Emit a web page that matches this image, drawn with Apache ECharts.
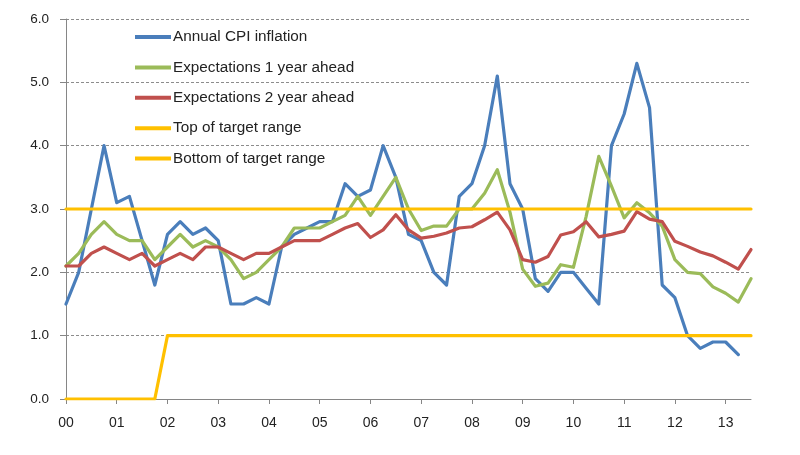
<!DOCTYPE html>
<html>
<head>
<meta charset="utf-8">
<script src="https://cdn.jsdelivr.net/npm/echarts@6/dist/echarts.min.js"></script>
<style>
html,body{margin:0;padding:0;background:#fff;}
#chart{width:800px;height:455px;}
</style>
</head>
<body>
<div id="chart"></div>
<script>
// Quarterly categories 2000Q1 .. 2013Q3
var years = ['00','01','02','03','04','05','06','07','08','09','10','11','12','13'];
var quarters = [];
for (var y = 0; y < years.length; y++) {
  for (var q = 1; q <= 4; q++) {
    if (y === 13 && q > 3) break;
    quarters.push(years[y] + 'Q' + q);
  }
}

var cpi = [1.5, 2.0, 3.0, 4.0, 3.1, 3.2, 2.5, 1.8, 2.6, 2.8,
           2.6, 2.7, 2.5, 1.5, 1.5, 1.6, 1.5, 2.4, 2.6, 2.7,
           2.8, 2.8, 3.4, 3.2, 3.3, 4.0, 3.5, 2.6, 2.5, 2.0,
           1.8, 3.2, 3.4, 4.0, 5.1, 3.4, 3.0, 1.9, 1.7, 2.0,
           2.0, 1.75, 1.5, 4.0, 4.5, 5.3, 4.6, 1.8, 1.6, 1.0,
           0.8, 0.9, 0.9, 0.7, null];

var exp1 = [2.1, 2.3, 2.6, 2.8, 2.6, 2.5, 2.5, 2.2, 2.4, 2.6,
            2.4, 2.5, 2.4, 2.2, 1.9, 2.0, 2.2, 2.4, 2.7, 2.7,
            2.7, 2.8, 2.9, 3.2, 2.9, 3.2, 3.5, 3.0, 2.66, 2.73,
            2.73, 3.0, 3.0, 3.25, 3.62, 2.95, 2.05, 1.78, 1.83, 2.12,
            2.08, 2.88, 3.83, 3.36, 2.86, 3.1, 2.94, 2.73, 2.2, 2.0,
            1.98, 1.77, 1.67, 1.53, 1.9];

var exp2 = [2.1, 2.1, 2.3, 2.4, 2.3, 2.2, 2.3, 2.1, 2.2, 2.3,
            2.2, 2.4, 2.4, 2.3, 2.2, 2.3, 2.3, 2.4, 2.5, 2.5,
            2.5, 2.6, 2.7, 2.77, 2.55, 2.67, 2.91, 2.67, 2.54, 2.57,
            2.62, 2.7, 2.72, 2.83, 2.95, 2.67, 2.2, 2.16, 2.25, 2.59,
            2.64, 2.8, 2.56, 2.6, 2.65, 2.96, 2.84, 2.8, 2.49, 2.41,
            2.32, 2.26, 2.16, 2.05, 2.36];

var topTarget = [3, 3, 3, 3, 3, 3, 3, 3, 3, 3,
                 3, 3, 3, 3, 3, 3, 3, 3, 3, 3,
                 3, 3, 3, 3, 3, 3, 3, 3, 3, 3,
                 3, 3, 3, 3, 3, 3, 3, 3, 3, 3,
                 3, 3, 3, 3, 3, 3, 3, 3, 3, 3,
                 3, 3, 3, 3, 3];

var bottomTarget = [0, 0, 0, 0, 0, 0, 0, 0, 1, 1,
                    1, 1, 1, 1, 1, 1, 1, 1, 1, 1,
                    1, 1, 1, 1, 1, 1, 1, 1, 1, 1,
                    1, 1, 1, 1, 1, 1, 1, 1, 1, 1,
                    1, 1, 1, 1, 1, 1, 1, 1, 1, 1,
                    1, 1, 1, 1, 1];

var names = ['Annual CPI inflation', 'Expectations 1 year ahead', 'Expectations 2 year ahead',
             'Top of target range', 'Bottom of target range'];
var colors = ['#4A7EBB', '#9BBB59', '#C0504D', '#FFC000', '#FFC000'];

var chart = echarts.init(document.getElementById('chart'), null, {renderer: 'canvas'});

function mk(i, data) {
  return {
    name: names[i],
    type: 'line',
    data: data,
    symbol: 'none',
    smooth: false,
    connectNulls: false,
    lineStyle: {color: colors[i], width: 3.2, join: 'round', cap: 'round'},
    itemStyle: {color: colors[i]},
    emphasis: {disabled: true},
    z: 2 + i
  };
}

var fontFam = '"Liberation Sans", Arial, sans-serif';

chart.setOption({
  animation: false,
  backgroundColor: '#ffffff',
  color: colors,
  grid: {left: 66, right: 49, top: 19, bottom: 56, containLabel: false},
  legend: {
    orient: 'vertical',
    left: 135,
    top: 29,
    padding: 0,
    icon: 'rect',
    itemWidth: 36,
    itemHeight: 4,
    itemGap: 14.4,
    data: names,
    textStyle: {fontFamily: fontFam, fontSize: 15.3, color: '#222', lineHeight: 16, padding: [0, 0, 0, -3]},
    selectedMode: false
  },
  xAxis: {
    type: 'category',
    data: quarters,
    boundaryGap: false,
    axisLine: {lineStyle: {color: '#868686', width: 1}},
    axisTick: {show: true, interval: 3, length: 5, lineStyle: {color: '#868686'}},
    axisLabel: {
      interval: 3,
      margin: 17,
      fontFamily: fontFam,
      fontSize: 14,
      color: '#222',
      formatter: function (v) { return v.slice(0, 2); }
    },
    splitLine: {show: false}
  },
  yAxis: {
    type: 'value',
    min: 0,
    max: 6,
    interval: 1,
    axisLine: {show: true, lineStyle: {color: '#868686', width: 1}},
    axisTick: {show: true, length: 6, lineStyle: {color: '#868686'}},
    axisLabel: {
      margin: 17,
      fontFamily: fontFam,
      fontSize: 13.5,
      color: '#222',
      formatter: function (v) { return v.toFixed(1); }
    },
    splitLine: {show: true, lineStyle: {color: '#8c8c8c', type: [3, 2], width: 1}}
  },
  series: [
    mk(0, cpi),
    mk(1, exp1),
    mk(2, exp2),
    mk(3, topTarget),
    mk(4, bottomTarget)
  ]
});
</script>
</body>
</html>
